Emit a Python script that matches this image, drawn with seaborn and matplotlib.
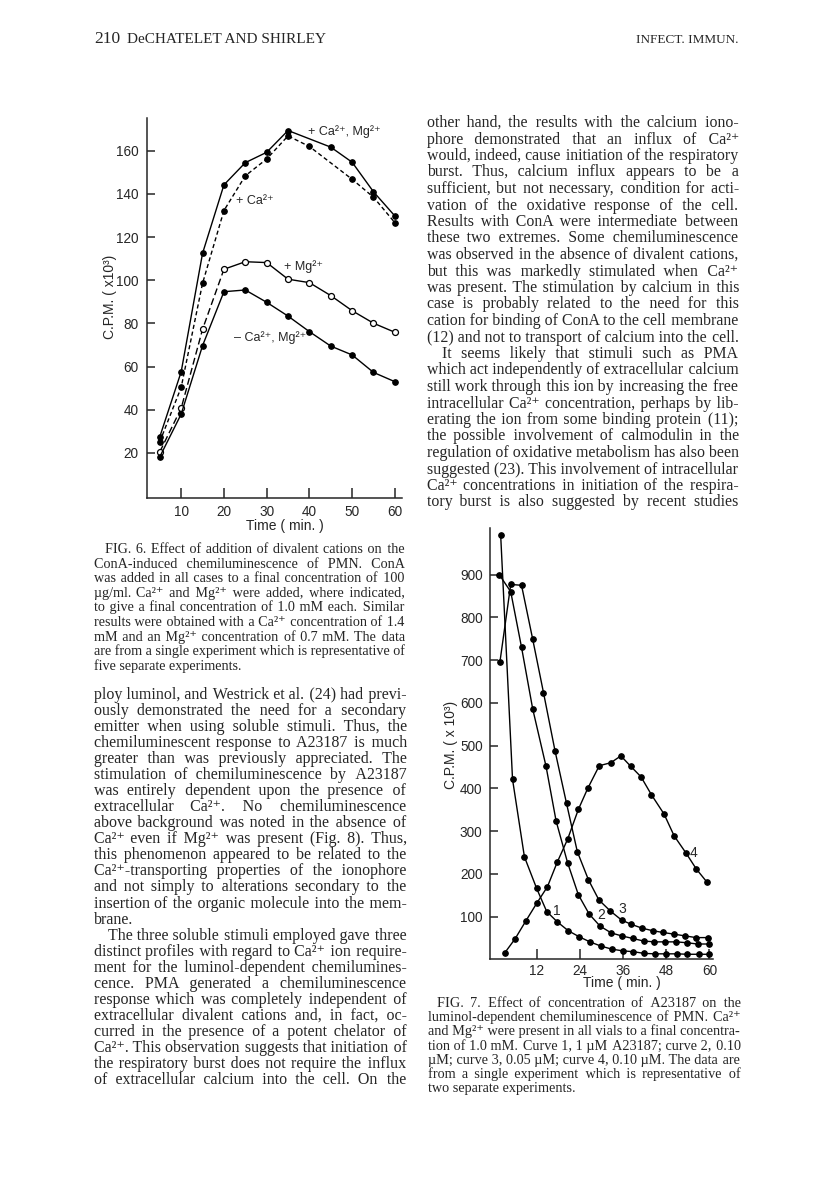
import matplotlib
matplotlib.use("Agg")
import matplotlib.pyplot as plt
from matplotlib.transforms import IdentityTransform
from matplotlib import font_manager
from matplotlib.ft2font import FT2Font
import seaborn as sns

W, H = 816, 1188

# ---- Fig. 6 data (C.P.M. x 10^3 vs time, min) ----
ca_mg_t = [5, 10, 15, 20, 25, 30, 35, 45, 50, 55, 60]
ca_mg = [27.5, 57.6, 112.5, 144.2, 154.5, 159.3, 169.4, 161.7, 154.7, 141.0, 129.8]
ca_t = [5, 10, 15, 20, 25, 30, 35, 40, 50, 55, 60]
ca_only = [25.2, 50.4, 98.6, 132.3, 148.4, 156.2, 166.9, 162.0, 146.8, 138.5, 126.7]
mg_t = [5, 10, 15, 20, 25, 30, 35, 40, 45, 50, 55, 60]
mg_only = [20.5, 40.7, 77.3, 105.1, 108.6, 108.2, 100.5, 98.9, 92.9, 85.9, 80.1, 75.9]
none_t = [5, 10, 15, 20, 25, 30, 35, 40, 45, 50, 55, 60]
no_cations = [18.2, 38.0, 69.7, 94.7, 95.5, 89.8, 83.4, 76.2, 69.5, 65.4, 57.3, 53.0]
fig6_yticks = [20, 40, 60, 80, 100, 120, 140, 160]
fig6_xticks = [10, 20, 30, 40, 50, 60]

# ---- Fig. 7 data ----
c1_t = [2.0, 5.3, 8.6, 12.0, 14.8, 17.7, 20.8, 23.8, 26.8, 29.9, 32.9, 35.9, 38.9, 41.9,
        44.9, 47.9, 50.9, 53.9, 57.0, 60.0]
curve1 = [993, 421, 240, 166, 112, 88, 67, 53, 41, 31, 24, 20, 18, 14, 13, 13, 13, 12, 12, 12]
c2_t = [1.6, 4.8, 7.8, 10.9, 14.6, 17.4, 20.6, 23.6, 26.6, 29.6, 32.7, 35.6, 38.7, 41.7,
        44.7, 47.7, 50.8, 53.7, 56.7, 60.0]
curve2 = [900, 860, 730, 586, 452, 324, 226, 151, 106, 78, 62, 55, 49, 43, 41, 41, 41, 39, 36, 36]
c3_t = [1.8, 4.8, 7.8, 10.9, 13.9, 17.1, 20.3, 23.3, 26.4, 29.3, 32.5, 35.6, 38.3, 41.3,
        44.3, 47.1, 50.2, 53.2, 56.3, 59.6]
curve3 = [696, 877, 875, 749, 624, 488, 365, 252, 186, 139, 113, 92, 82, 73, 67, 63, 59, 55, 51, 51]
c4_t = [3.2, 6.0, 9.0, 12.0, 15.0, 17.7, 20.6, 23.6, 26.2, 29.4, 32.6, 35.4, 38.1, 41.0,
        43.9, 47.4, 50.2, 53.4, 56.4, 59.2]
curve4 = [16, 48, 90, 131, 170, 227, 281, 351, 400, 453, 460, 476, 452, 427, 385, 340, 289,
          250, 211, 182]
fig7_yticks = [100, 200, 300, 400, 500, 600, 700, 800, 900]
fig7_xticks = [12, 24, 36, 48, 60]

# ---- page text ----
right_col = [
    "other hand, the results with the calcium iono-",
    "phore demonstrated that an influx of Ca²⁺",
    "would, indeed, cause initiation of the respiratory",
    "burst. Thus, calcium influx appears to be a",
    "sufficient, but not necessary, condition for acti-",
    "vation of the oxidative response of the cell.",
    "Results with ConA were intermediate between",
    "these two extremes. Some chemiluminescence",
    "was observed in the absence of divalent cations,",
    "but this was markedly stimulated when Ca²⁺",
    "was present. The stimulation by calcium in this",
    "case is probably related to the need for this",
    "cation for binding of ConA to the cell membrane",
    "(12) and not to transport of calcium into the cell.",
    "  It seems likely that stimuli such as PMA",
    "which act independently of extracellular calcium",
    "still work through this ion by increasing the free",
    "intracellular Ca²⁺ concentration, perhaps by lib-",
    "erating the ion from some binding protein (11);",
    "the possible involvement of calmodulin in the",
    "regulation of oxidative metabolism has also been",
    "suggested (23). This involvement of intracellular",
    "Ca²⁺ concentrations in initiation of the respira-",
    "tory burst is also suggested by recent studies",
]
left_col = [
    "ploy luminol, and Westrick et al. (24) had previ-",
    "ously demonstrated the need for a secondary",
    "emitter when using soluble stimuli. Thus, the",
    "chemiluminescent response to A23187 is much",
    "greater than was previously appreciated. The",
    "stimulation of chemiluminescence by A23187",
    "was entirely dependent upon the presence of",
    "extracellular Ca²⁺. No chemiluminescence",
    "above background was noted in the absence of",
    "Ca²⁺ even if Mg²⁺ was present (Fig. 8). Thus,",
    "this phenomenon appeared to be related to the",
    "Ca²⁺-transporting properties of the ionophore",
    "and not simply to alterations secondary to the",
    "insertion of the organic molecule into the mem-",
    "brane.",
    "  The three soluble stimuli employed gave three",
    "distinct profiles with regard to Ca²⁺ ion require-",
    "ment for the luminol-dependent chemilumines-",
    "cence. PMA generated a chemiluminescence",
    "response which was completely independent of",
    "extracellular divalent cations and, in fact, oc-",
    "curred in the presence of a potent chelator of",
    "Ca²⁺. This observation suggests that initiation of",
    "the respiratory burst does not require the influx",
    "of extracellular calcium into the cell. On the",
]
cap6 = [
    "  FIG. 6. Effect of addition of divalent cations on the",
    "ConA-induced chemiluminescence of PMN. ConA",
    "was added in all cases to a final concentration of 100",
    "µg/ml. Ca²⁺ and Mg²⁺ were added, where indicated,",
    "to give a final concentration of 1.0 mM each. Similar",
    "results were obtained with a Ca²⁺ concentration of 1.4",
    "mM and an Mg²⁺ concentration of 0.7 mM. The data",
    "are from a single experiment which is representative of",
    "five separate experiments.",
]
cap7 = [
    "  FIG. 7. Effect of concentration of A23187 on the",
    "luminol-dependent chemiluminescence of PMN. Ca²⁺",
    "and Mg²⁺ were present in all vials to a final concentra-",
    "tion of 1.0 mM. Curve 1, 1 µM A23187; curve 2, 0.10",
    "µM; curve 3, 0.05 µM; curve 4, 0.10 µM. The data are",
    "from a single experiment which is representative of",
    "two separate experiments.",
]

sns.set_style("ticks")
SERIF = ["Liberation Serif", "DejaVu Serif"]
SANS = ["Liberation Sans", "DejaVu Sans"]
plt.rcParams["font.family"] = SERIF
plt.rcParams["lines.scale_dashes"] = False

fig = plt.figure(figsize=(W / 100, H / 100), dpi=100)
fig.patch.set_facecolor("white")
renderer = fig.canvas.get_renderer()

# a narrow space glyph for justifying whole lines (kept as one text each)
PAD = None
for fam in SERIF:
    path = font_manager.findfont(font_manager.FontProperties(family=fam))
    cmap = FT2Font(path).get_charmap()
    for ch in ("\u200a", "\u2009", "\u2006", "\u2005"):
        if ord(ch) in cmap:
            PAD = ch
            break
    if PAD:
        break
if PAD is None:
    PAD = " "


def put(x, y, s, size, family=SERIF, **kw):
    # x, y in page pixels, y measured from the top
    return fig.text(x, H - y, s, fontsize=size, family=family,
                    transform=IdentityTransform(), **kw)


def width_of(t, s):
    t.set_text(s)
    return t.get_window_extent(renderer).width


def block(lines, x0, x1, y0, step, indent):
    probe = put(0, 0, "", 10)
    ratios = []
    for line in lines:
        avail = x1 - x0 - (indent if line.startswith("  ") else 0)
        ratios.append(width_of(probe, line.strip()) / avail)
    size = 10 / max(ratios)
    probe.set_fontsize(size)
    pad_w = (width_of(probe, "x" + PAD * 20 + "x") - width_of(probe, "xx")) / 20
    probe.remove()
    for i, line in enumerate(lines):
        left = x0 + (indent if line.startswith("  ") else 0)
        words = line.strip().split(" ")
        t = put(left, y0 + i * step, "", size, va="baseline")
        w0 = width_of(t, " ".join(words))
        if ratios[i] > 0.85 * max(ratios) and len(words) > 1 and pad_w > 0:
            n = int(round((x1 - left - w0) / pad_w))
            gaps = len(words) - 1
            out = words[0]
            for g in range(gaps):
                k = n * (g + 1) // gaps - n * g // gaps
                out += " " + PAD * k + words[g + 1]
            t.set_text(out)
        else:
            t.set_text(" ".join(words))


def px_axes(left, top, right, bottom):
    return fig.add_axes([left / W, 1 - bottom / H, (right - left) / W, (bottom - top) / H])


def style_axes(ax, xticks, yticks, ypad, xpad):
    sns.despine(ax=ax)
    for s in ("left", "bottom"):
        ax.spines[s].set_linewidth(1.1)
    ax.set_xticks(xticks)
    ax.set_yticks(yticks)
    ax.tick_params(direction="in", width=1.1, labelsize=9.8, labelfontfamily="Liberation Sans")
    ax.tick_params(axis="y", length=6, pad=ypad)
    ax.tick_params(axis="x", length=7, pad=xpad)
    ax.set_xlabel("")
    ax.set_ylabel("")
    ax.set_facecolor("none")


line_kw = dict(color="black", lw=1.0, estimator=None, sort=False)
dot_kw = dict(marker="o", ms=4.0, mec="black", mfc="black", mew=0.8)

# ---------------- Fig. 6 ----------------
ax6 = px_axes(147, 118, 401.7, 498)
sns.lineplot(x=ca_mg_t, y=ca_mg, ax=ax6, **line_kw, **dot_kw)
sns.lineplot(x=ca_t, y=ca_only, ax=ax6, linestyle=(0, (3, 2)), **line_kw, **dot_kw)
sns.lineplot(x=mg_t[:4], y=mg_only[:4], ax=ax6, linestyle=(0, (5, 2.5)), **line_kw)
sns.lineplot(x=mg_t[3:], y=mg_only[3:], ax=ax6, **line_kw)
sns.lineplot(x=mg_t, y=mg_only, ax=ax6, linestyle="none", marker="o", ms=4.3,
             mec="black", mfc="white", mew=0.9, color="black", estimator=None, sort=False)
sns.lineplot(x=none_t, y=no_cations, ax=ax6, **line_kw, **dot_kw)
ax6.set_xlim(2.0, 61.6)
ax6.set_ylim(-0.9, 175.2)
style_axes(ax6, fig6_xticks, fig6_yticks, ypad=6, xpad=5)

put(308, 135, "+ Ca²⁺, Mg²⁺", 9, family=SANS)
put(236, 204, "+ Ca²⁺", 9, family=SANS)
put(284, 270, "+ Mg²⁺", 9, family=SANS)
put(234, 341, "– Ca²⁺, Mg²⁺", 9, family=SANS)
put(285, 530, "Time ( min. )", 10, family=SANS, ha="center")
put(110, 297, "C.P.M. ( x10³)", 10, family=SANS, rotation=90, ha="center", va="center")

# ---------------- Fig. 7 ----------------
ax7 = px_axes(489.5, 528, 713, 959.4)
sns.lineplot(x=c1_t, y=curve1, ax=ax7, **line_kw, **dot_kw)
sns.lineplot(x=c2_t, y=curve2, ax=ax7, **line_kw, **dot_kw)
sns.lineplot(x=c3_t, y=curve3, ax=ax7, **line_kw, **dot_kw)
sns.lineplot(x=c4_t, y=curve4, ax=ax7, **line_kw, **dot_kw)
ax7.set_xlim(-1.1, 61.0)
ax7.set_ylim(0, 1009)
style_axes(ax7, fig7_xticks, fig7_yticks, ypad=5, xpad=3)

put(557, 915, "1", 10, family=SANS, ha="center")
put(601, 919, "2", 10, family=SANS, ha="center")
put(622, 913, "3", 10, family=SANS, ha="center")
put(694, 857, "4", 10, family=SANS, ha="center")
put(622, 987, "Time ( min. )", 10, family=SANS, ha="center")
put(451, 745, "C.P.M. ( x 10³)", 10, family=SANS, rotation=90, ha="center", va="center")

# ---------------- page text ----------------
put(94, 43, "210", 12.5, va="baseline")
put(127, 43, "DeCHATELET AND SHIRLEY", 11, va="baseline")
put(738, 43, "INFECT. IMMUN.", 9.5, va="baseline", ha="right")

block(right_col, 426.7, 738.3, 127, 16.5, 15)
block(left_col, 94.3, 406.7, 699, 16.04, 14)
block(cap6, 94.3, 405, 553, 14.6, 11)
block(cap7, 427.7, 740, 1007, 14.2, 9)

fig.savefig("out.png", dpi=100, facecolor="white")
